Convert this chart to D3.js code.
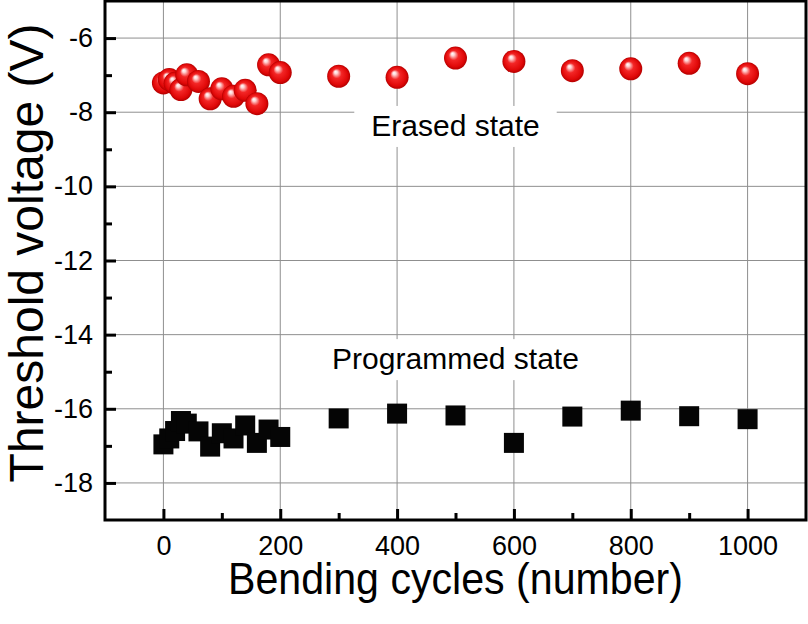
<!DOCTYPE html>
<html>
<head>
<meta charset="utf-8">
<script src="https://cdn.jsdelivr.net/npm/d3@7"></script>
<style>
  body { margin: 0; background: #fff; }
  svg { display: block; }
  text { font-family: "Liberation Sans", Arial, sans-serif; fill: #000; }
</style>
</head>
<body>
<div id="chart"></div>
<script>
// Bending cycles for each measurement
const erasedCycles = [0, 10, 20, 30, 40, 60, 80, 100, 120, 140, 160, 180, 200, 300, 400, 500, 600, 700, 800, 900, 1000]
const erasedVth = [-7.21, -7.12, -7.22, -7.39, -6.99, -7.17, -7.64, -7.37, -7.57, -7.41, -7.77, -6.72, -6.93, -7.03, -7.06, -6.54, -6.63, -6.88, -6.83, -6.68, -6.96]

const programmedCycles = [0, 10, 20, 30, 40, 60, 80, 100, 120, 140, 160, 180, 200, 300, 400, 500, 600, 700, 800, 900, 1000]
const programmedVth = [-16.96, -16.8, -16.6, -16.33, -16.4, -16.61, -17.02, -16.66, -16.8, -16.45, -16.92, -16.56, -16.76, -16.26, -16.13, -16.18, -16.92, -16.21, -16.05, -16.2, -16.28]

const xMajorTicks = [0, 200, 400, 600, 800, 1000]
const xMinorTicks = [100, 300, 500, 700, 900]
const yMajorTicks = [-18, -16, -14, -12, -10, -8, -6]
const yMinorTicks = [-17, -15, -13, -11, -9, -7]

const annotations = [
  { text: "Erased state", x: 500, y: -8.64 },
  { text: "Programmed state", x: 500, y: -14.93 }
]

const width = 808
const height = 624
const margin = { top: 1, right: 2, bottom: 104, left: 105 }

const x = d3.scaleLinear().domain([-100, 1100]).range([margin.left, width - margin.right])
const y = d3.scaleLinear().domain([-19, -5]).range([height - margin.bottom, margin.top])

const svg = d3.select("#chart").append("svg")
  .attr("width", width)
  .attr("height", height)

const defs = svg.append("defs")
const grad = defs.append("radialGradient")
  .attr("id", "ball")
  .attr("cx", "50%").attr("cy", "50%").attr("r", "50%")
  .attr("fx", "36%").attr("fy", "30%")
grad.selectAll("stop")
  .data([
    ["0%", "#ffffff"],
    ["14%", "#ffd6d6"],
    ["42%", "#f32626"],
    ["82%", "#e00808"],
    ["100%", "#b40000"]
  ])
  .join("stop")
  .attr("offset", d => d[0])
  .attr("stop-color", d => d[1])

// grid
const grid = svg.append("g").attr("stroke", "#8f8f8f").attr("stroke-width", 1)
grid.selectAll(".gx").data(xMajorTicks).join("line")
  .attr("x1", d => x(d)).attr("x2", d => x(d))
  .attr("y1", y.range()[1]).attr("y2", y.range()[0])
grid.selectAll(".gy").data(yMajorTicks).join("line")
  .attr("x1", x.range()[0]).attr("x2", x.range()[1])
  .attr("y1", d => y(d)).attr("y2", d => y(d))

// annotation labels with white boxes
const ann = svg.append("g").selectAll("g").data(annotations).join("g")
ann.append("text")
  .attr("x", d => x(d.x))
  .attr("y", d => y(d.y))
  .attr("text-anchor", "middle")
  .style("font-size", "30px")
  .text(d => d.text)
ann.each(function () {
  const g = d3.select(this)
  const bb = g.select("text").node().getBBox()
  g.insert("rect", "text")
    .attr("x", bb.x - 17).attr("y", bb.y - 3)
    .attr("width", bb.width + 34).attr("height", bb.height + 8)
    .attr("fill", "#fff")
})

// axes
const xAxis = svg.append("g")
  .attr("transform", `translate(0,${height - margin.bottom})`)
  .call(d3.axisBottom(x).tickValues(xMajorTicks).tickSize(-11).tickPadding(16).tickFormat(d3.format("d")))
const xMinor = svg.append("g")
  .attr("transform", `translate(0,${height - margin.bottom})`)
  .call(d3.axisBottom(x).tickValues(xMinorTicks).tickSize(-7).tickFormat(""))
const yAxis = svg.append("g")
  .attr("transform", `translate(${margin.left},0)`)
  .call(d3.axisLeft(y).tickValues(yMajorTicks).tickSize(-11).tickPadding(12).tickFormat(d => String(d)))
const yMinor = svg.append("g")
  .attr("transform", `translate(${margin.left},0)`)
  .call(d3.axisLeft(y).tickValues(yMinorTicks).tickSize(-7).tickFormat(""))

for (const a of [xAxis, xMinor, yAxis, yMinor]) {
  a.select(".domain").remove()
  a.selectAll(".tick line").attr("stroke", "#000").attr("stroke-width", 3)
  a.selectAll(".tick text")
    .style("font-size", "27px")
    .style("font-family", "Liberation Sans, Arial, sans-serif")
    .attr("fill", "#000")
}

// frame
svg.append("rect")
  .attr("x", x.range()[0]).attr("y", y.range()[1])
  .attr("width", x.range()[1] - x.range()[0])
  .attr("height", y.range()[0] - y.range()[1])
  .attr("fill", "none")
  .attr("stroke", "#000")
  .attr("stroke-width", 3)

// programmed state: black squares
const sq = 20
svg.append("g").selectAll("rect")
  .data(programmedCycles.map((c, i) => [c, programmedVth[i]]))
  .join("rect")
  .attr("x", d => x(d[0]) - sq / 2)
  .attr("y", d => y(d[1]) - sq / 2)
  .attr("width", sq).attr("height", sq)
  .attr("fill", "#050505")

// erased state: red spheres
svg.append("g").selectAll("circle")
  .data(erasedCycles.map((c, i) => [c, erasedVth[i]]))
  .join("circle")
  .attr("cx", d => x(d[0]))
  .attr("cy", d => y(d[1]))
  .attr("r", 11.5)
  .attr("fill", "url(#ball)")

// axis titles
svg.append("text")
  .attr("x", (x.range()[0] + x.range()[1]) / 2)
  .attr("y", 594)
  .attr("text-anchor", "middle")
  .style("font-size", "44px")
  .attr("textLength", 455)
  .attr("lengthAdjust", "spacingAndGlyphs")
  .text("Bending cycles (number)")

svg.append("text")
  .attr("transform", "translate(43,253) rotate(-90)")
  .attr("text-anchor", "middle")
  .style("font-size", "48px")
  .text("Threshold voltage (V)")
</script>
</body>
</html>
